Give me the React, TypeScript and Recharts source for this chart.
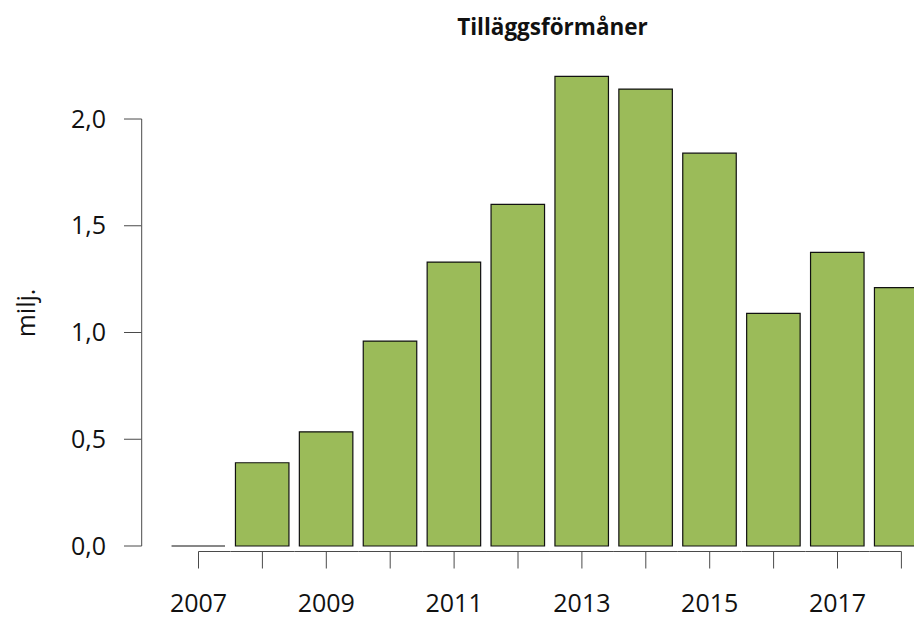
import { Bar, BarChart, XAxis, YAxis } from 'recharts'

const years = ['2007', '2008', '2009', '2010', '2011', '2012', '2013', '2014', '2015', '2016', '2017', '2018']
const values = [0, 0.39, 0.535, 0.96, 1.33, 1.6, 2.2, 2.14, 1.84, 1.09, 1.375, 1.21]
const yTicks = [0, 0.5, 1, 1.5, 2]
const xLabels = ['2007', '2009', '2011', '2013', '2015', '2017']

const chartData = years.map((year, i) => ({ year, value: values[i] }))

const FONT = '"Open Sans", sans-serif'
const AXIS = '#4a4a4a'
const BAND = 63.9
const Y_STEP = 106.75

const BarShape = (props: any) => {
  const { x, y, width, height } = props
  return (
    <path
      d={`M${x},${y}h${width}v${height}h${-width}Z`}
      fill="#9BBB59"
      stroke="#111"
      strokeWidth={1.2}
    />
  )
}

const XTick = (props: any) => {
  const { x, y, payload, index } = props
  const last = index === years.length - 1
  const lineY = y + 5.5
  return (
    <g>
      <line
        x1={index === 0 ? x : x - BAND / 2}
        x2={last ? x : x + BAND / 2}
        y1={lineY}
        y2={lineY}
        stroke={AXIS}
      />
      <line x1={x} x2={x} y1={lineY} y2={lineY + 17} stroke={AXIS} />
      {xLabels.includes(payload.value) && (
        <text x={x} y={y + 65.5} textAnchor="middle" fontFamily={FONT} fontSize={25} fill="#111">
          {payload.value}
        </text>
      )}
    </g>
  )
}

const YTick = (props: any) => {
  const { x, y, payload, index } = props
  const label = Number(payload.value).toFixed(1).replace('.', ',')
  return (
    <g>
      <line x1={x - 17.7} x2={x} y1={y} y2={y} stroke={AXIS} />
      {index < yTicks.length - 1 && <line x1={x} x2={x} y1={y} y2={y - Y_STEP} stroke={AXIS} />}
      <text
        x={x - 35.7}
        y={y}
        dy={8.5}
        textAnchor="end"
        fontFamily={FONT}
        fontSize={25}
        fill="#111"
      >
        {label}
      </text>
    </g>
  )
}

export default function App() {
  return (
    <div
      style={{
        position: 'absolute',
        left: 0,
        top: 0,
        width: 914,
        height: 619,
        overflow: 'hidden',
        background: '#fff',
      }}
    >
      <div
        style={{
          position: 'absolute',
          left: 0,
          top: 0,
          width: 914,
          textAlign: 'center',
          paddingLeft: 191,
          boxSizing: 'border-box',
          fontFamily: FONT,
          fontWeight: 700,
          fontSize: 22.5,
          lineHeight: '30px',
          marginTop: 12,
          color: '#111',
        }}
      >
        Tilläggsförmåner
      </div>
      <div
        style={{
          position: 'absolute',
          left: 25,
          top: 313,
          transform: 'translate(-50%, -50%) rotate(-90deg)',
          fontFamily: FONT,
          fontSize: 25,
          lineHeight: '30px',
          color: '#111',
          whiteSpace: 'nowrap',
        }}
      >
        milj.
      </div>
      <BarChart
        width={940}
        height={619}
        data={chartData}
        margin={{ top: 65.625, right: 6.65, bottom: 0, left: 0 }}
        barSize={53.5}
      >
        <XAxis
          dataKey="year"
          height={73}
          padding={{ left: 24.85, right: 0 }}
          axisLine={false}
          tickLine={false}
          tickSize={0}
          tickMargin={0}
          interval={0}
          tick={<XTick />}
        />
        <YAxis
          width={141.7}
          domain={[0, 2.25]}
          ticks={yTicks}
          axisLine={false}
          tickLine={false}
          tickSize={0}
          tickMargin={0}
          interval={0}
          tick={<YTick />}
        />
        <Bar dataKey="value" shape={<BarShape />} isAnimationActive={false} />
      </BarChart>
    </div>
  )
}
